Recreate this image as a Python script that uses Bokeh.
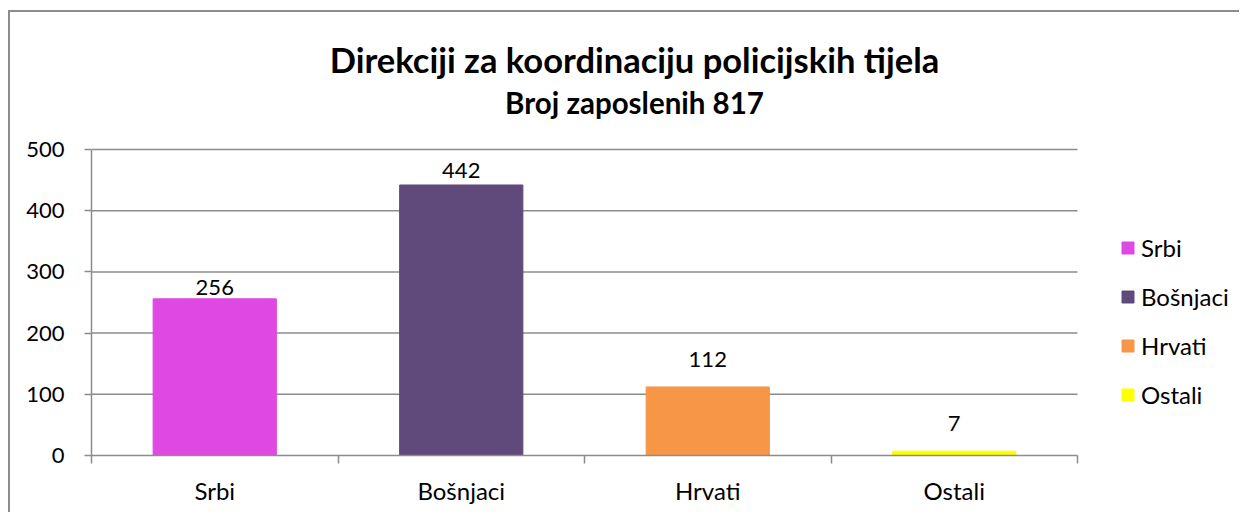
from bokeh.plotting import figure
from bokeh.models import (Range1d, FixedTicker, Legend, LegendItem, Label, InlineStyleSheet,
                          ColumnDataSource)
from bokeh.core.properties import value
from bokeh.embed import file_html
from bokeh.resources import INLINE

categories = ["Srbi", "Bošnjaci", "Hrvati", "Ostali"]
counts = [256, 442, 112, 7]
colors = ["#DF48E3", "#604A7B", "#F79646", "#FFFF00"]
y_ticks = [0, 100, 200, 300, 400, 500]
title_text = "Direkciji za koordinaciju policijskih tijela"
subtitle_text = "Broj zaposlenih 817"
# pixel gap between each bar top and its value label (style only)
label_gap_px = [3, 6, 19, 20]

FONT = "Lato"
GRID = "#8c8c8c"
N = len(categories)
Y_MAX = y_ticks[-1]

# layout (pixels)
FRAME_LEFT = 91
FRAME_W = 1148
FRAME_H = 455
PX_PER_CAT = 246.5
PX_PER_UNIT = 306 / Y_MAX

centers = [i + 0.5 for i in range(N)]
bounds = list(range(N + 1))

src = ColumnDataSource(dict(x=centers, top=counts, color=colors, cat=categories,
                            lbl=[str(v) for v in counts], dy=[-(g + 8) for g in label_gap_px]))

p = figure(frame_width=FRAME_W, frame_height=FRAME_H, output_backend="svg", toolbar_location=None,
           x_range=Range1d(0, FRAME_W / PX_PER_CAT), y_range=Range1d(0, FRAME_H / PX_PER_UNIT),
           min_border_left=FRAME_LEFT, min_border_right=0, min_border_top=0, min_border_bottom=57)
p.outline_line_color = None
p.background_fill_color = "white"
p.border_fill_color = "white"
p.title.visible = False
p.xgrid.grid_line_color = None
p.ygrid.grid_line_color = None

# horizontal gridlines across the plot area only
p.segment(x0=0, x1=N, y0=y_ticks[1:], y1=y_ticks[1:], line_color=GRID, line_width=1.5)

r = p.vbar(x="x", top="top", width=0.5, color="color", source=src)

p.text(x="x", y="top", text="lbl", source=src, text_align="center", text_baseline="alphabetic",
       y_offset="dy", text_font=value(FONT), text_font_size="22px", text_color="black")

# axes
p.xaxis.bounds = (0, N)
p.xaxis.ticker = FixedTicker(ticks=centers, minor_ticks=bounds)
p.xaxis.major_label_overrides = {c: n for c, n in zip(centers, categories)}
p.xaxis.major_tick_out = 0
p.xaxis.major_tick_in = 0
p.xaxis.minor_tick_out = 8
p.xaxis.minor_tick_in = 0
p.xaxis.minor_tick_line_color = GRID
p.xaxis.minor_tick_line_width = 1.5
p.xaxis.axis_line_color = GRID
p.xaxis.axis_line_width = 1.5
p.xaxis.major_label_standoff = 12
p.xaxis.major_label_text_font = FONT
p.xaxis.major_label_text_font_size = "24px"
p.xaxis.major_label_text_color = "black"

p.yaxis.bounds = (0, Y_MAX)
p.yaxis.ticker = FixedTicker(ticks=y_ticks)
p.yaxis.major_tick_out = 7
p.yaxis.major_tick_in = 0
p.yaxis.major_tick_line_color = GRID
p.yaxis.major_tick_line_width = 1.5
p.yaxis.minor_tick_line_color = None
p.yaxis.axis_line_color = GRID
p.yaxis.axis_line_width = 1.5
p.yaxis.major_label_standoff = 20
p.yaxis.major_label_text_font = FONT
p.yaxis.major_label_text_font_size = "22px"
p.yaxis.major_label_text_color = "black"

# titles (inside the extended frame, above the plotting area)
TX = (635 - 92) / PX_PER_CAT
p.add_layout(Label(x=TX, y=(456 - 60) / PX_PER_UNIT, text=title_text, text_align="center",
                   text_baseline="middle", text_font=FONT, text_font_style="bold",
                   text_font_size="34.5px", text_color="black"))
p.add_layout(Label(x=TX, y=(456 - 103) / PX_PER_UNIT, text=subtitle_text, text_align="center",
                   text_baseline="middle", text_font=FONT, text_font_style="bold",
                   text_font_size="29.5px", text_color="black"))

legend = Legend(items=[LegendItem(label=c, renderers=[r], index=i) for i, c in enumerate(categories)],
                location=(1029, 46), padding=0, margin=0, spacing=20,
                glyph_width=15, glyph_height=15, label_standoff=6, label_height=20,
                label_text_font=FONT, label_text_font_size="24px", label_text_color="black",
                border_line_color=None, background_fill_alpha=0)
p.add_layout(legend, "center")

# outer border of the chart box (left and top edges visible in the window)
p.stylesheets = [InlineStyleSheet(css=""":host::after { content: ""; position: absolute; left: 8px; top: 10px;
 right: 0; bottom: 0; border-left: 2px solid #8c8c8c; border-top: 2px solid #8c8c8c;
 pointer-events: none; }""")]

open("out.html", "w").write(file_html(p, INLINE))
